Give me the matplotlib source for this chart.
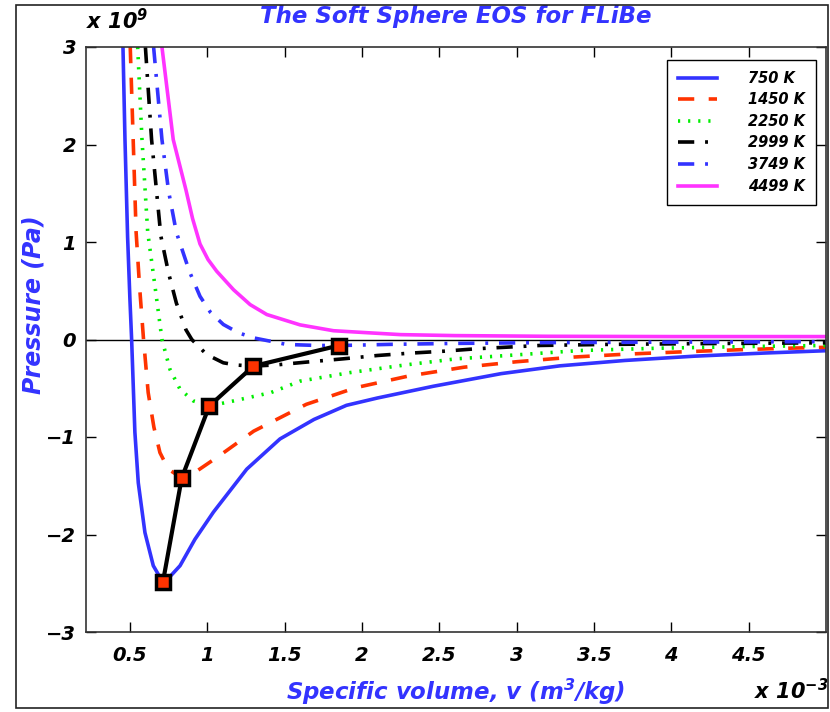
import matplotlib
matplotlib.use("Agg")
import matplotlib.pyplot as plt
from matplotlib.patches import Rectangle

plt.rcParams["font.family"] = ["DejaVu Sans"]
plt.rcParams["font.weight"] = "bold"
plt.rcParams["font.style"] = "italic"
plt.rcParams["axes.labelweight"] = "bold"
plt.rcParams["mathtext.default"] = "regular"

# specific volume in 1e-3 m^3/kg, pressure in 1e9 Pa
v_750 = [0.455, 0.468, 0.485, 0.500, 0.511, 0.532, 0.554, 0.597, 0.651, 0.713, 0.76, 0.824, 0.92,
         1.04, 1.255, 1.47, 1.69, 1.90, 2.10, 2.46, 2.90, 3.28, 3.70, 4.15, 4.60, 5.0]
p_750 = [3.0, 2.05, 1.05, 0.41, 0.0, -0.95, -1.47, -1.98, -2.32, -2.49, -2.43, -2.32, -2.05,
         -1.77, -1.33, -1.02, -0.82, -0.675, -0.60, -0.48, -0.35, -0.27, -0.215, -0.171, -0.139, -0.115]

v_1450 = [0.502, 0.521, 0.54, 0.562, 0.588, 0.618, 0.655, 0.694, 0.748, 0.835, 0.932, 1.08, 1.30,
          1.64, 1.96, 2.30, 2.66, 3.00, 3.37, 3.71, 4.08, 4.44, 4.79, 5.0]
p_1450 = [3.0, 2.05, 1.1, 0.55, 0.0, -0.545, -0.9, -1.16, -1.33, -1.42, -1.35, -1.19, -0.94,
          -0.665, -0.494, -0.375, -0.284, -0.228, -0.18, -0.15, -0.126, -0.105, -0.088, -0.08]

v_2250 = [0.55, 0.578, 0.615, 0.662, 0.707, 0.759, 0.824, 0.91, 1.013, 1.17, 1.41, 1.60, 1.92,
          2.27, 2.61, 2.94, 3.41, 3.9, 4.5, 5.0]
p_2250 = [3.0, 2.05, 1.1, 0.545, 0.0, -0.307, -0.51, -0.63, -0.682, -0.63, -0.545, -0.427, -0.34,
          -0.263, -0.198, -0.164, -0.113, -0.09, -0.072, -0.061]

v_2999 = [0.60, 0.64, 0.70, 0.75, 0.80, 0.862, 0.90, 0.996, 1.104, 1.19, 1.298, 1.45, 1.64, 1.88,
          2.10, 2.31, 2.53, 2.74, 3.15, 3.6, 4.2, 5.0]
p_2999 = [3.0, 2.05, 1.06, 0.68, 0.375, 0.1, 0.0, -0.154, -0.239, -0.262, -0.273, -0.26, -0.232, -0.198,
          -0.164, -0.14, -0.12, -0.095, -0.061, -0.05, -0.042, -0.034]

v_3749 = [0.653, 0.707, 0.75, 0.80, 0.884, 0.953, 1.02, 1.104, 1.20, 1.298, 1.514, 1.708, 1.85,
          2.18, 2.6, 3.2, 4.0, 5.0]
p_3749 = [3.0, 2.05, 1.52, 1.1, 0.70, 0.443, 0.28, 0.154, 0.07, 0.017, -0.051, -0.061, -0.062,
          -0.05, -0.04, -0.032, -0.027, -0.022]

v_4499 = [0.707, 0.78, 0.862, 0.905, 0.953, 1.005, 1.061, 1.17, 1.277, 1.385, 1.60, 1.816, 2.03,
          2.25, 2.6, 3.2, 4.0, 5.0]
p_4499 = [3.0, 2.05, 1.535, 1.24, 0.98, 0.82, 0.70, 0.51, 0.358, 0.256, 0.15, 0.09, 0.07,
          0.05, 0.04, 0.033, 0.03, 0.03]

# curve minima joined by the black line
v_min = [0.713, 0.835, 1.013, 1.298, 1.85]
p_min = [-2.49, -1.42, -0.682, -0.273, -0.062]

labels = ["750 K", "1450 K", "2250 K", "2999 K", "3749 K", "4499 K"]

BLUE = "#3333ff"
RED = "#ff3300"
GREEN = "#00ee00"
MAG = "#ff33ff"

fig = plt.figure(figsize=(8.3, 7.12), dpi=100)
ax = fig.add_axes([86 / 830, 80 / 712, 740 / 830, 585 / 712])

lw = 2.6
ax.plot(v_750, p_750, color=BLUE, lw=lw, ls="-", label=labels[0])
ax.plot(v_1450, p_1450, color=RED, lw=lw, ls=(0, (4.5, 4)), label=labels[1])
ax.plot(v_2250, p_2250, color=GREEN, lw=lw, ls=(0, (0.6, 2.2)), label=labels[2])
ax.plot(v_2999, p_2999, color="black", lw=lw, ls=(0, (4.5, 3, 0.8, 3)), label=labels[3])
ax.plot(v_3749, p_3749, color=BLUE, lw=lw, ls=(0, (4.5, 3, 0.8, 3)), label=labels[4])
ax.plot(v_4499, p_4499, color=MAG, lw=lw, ls="-", label=labels[5])

ax.axhline(0, color="black", lw=1, zorder=1)
ax.plot(v_min, p_min, color="black", lw=3, marker="s", ms=10, mfc=RED, mec="black",
        mew=2.5, zorder=5)

ax.set_xlim(0.216, 5.0)
ax.set_ylim(-3, 3)
ax.set_xticks([0.5, 1, 1.5, 2, 2.5, 3, 3.5, 4, 4.5])
ax.set_xticklabels(["0.5", "1", "1.5", "2", "2.5", "3", "3.5", "4", "4.5"])
ax.set_yticks([-3, -2, -1, 0, 1, 2, 3])
ax.tick_params(direction="in", length=7, width=1, top=True, right=True, labelsize=14)
ax.tick_params(axis="x", pad=10)
ax.tick_params(axis="y", pad=7)
for s in ax.spines.values():
    s.set_linewidth(1.2)
    s.set_color("#333333")

ax.set_xlabel("Specific volume, v (m$^3$/kg)", color=BLUE, fontsize=16.5)
ax.xaxis.set_label_coords(0.5, -0.077)
ax.set_ylabel("Pressure (Pa)", color=BLUE, fontsize=17)
ax.yaxis.set_label_coords(-0.055, 0.56)
ax.text(0.5, 1.052, "The Soft Sphere EOS for FLiBe", transform=ax.transAxes, ha="center",
        va="center", color=BLUE, fontsize=16.5)
ax.text(0.0, 1.045, "x 10$^9$", transform=ax.transAxes, ha="left", va="center", fontsize=15)
ax.text(1.003, -0.1, "x 10$^{-3}$", transform=ax.transAxes, ha="right", va="center", fontsize=15)

leg = ax.legend(loc="upper right", bbox_to_anchor=(0.986, 0.978), borderaxespad=0,
                fancybox=False, framealpha=1, edgecolor="black", fontsize=10.5,
                handlelength=2.7, handletextpad=2.1, labelspacing=0.45, borderpad=0.75)
leg.get_frame().set_linewidth(1)

fig.patches.append(Rectangle((16 / 830, 4 / 712), 812 / 830, 703 / 712, transform=fig.transFigure,
                             fill=False, edgecolor="#222222", lw=1.2))

fig.savefig("out.png", dpi=100)
